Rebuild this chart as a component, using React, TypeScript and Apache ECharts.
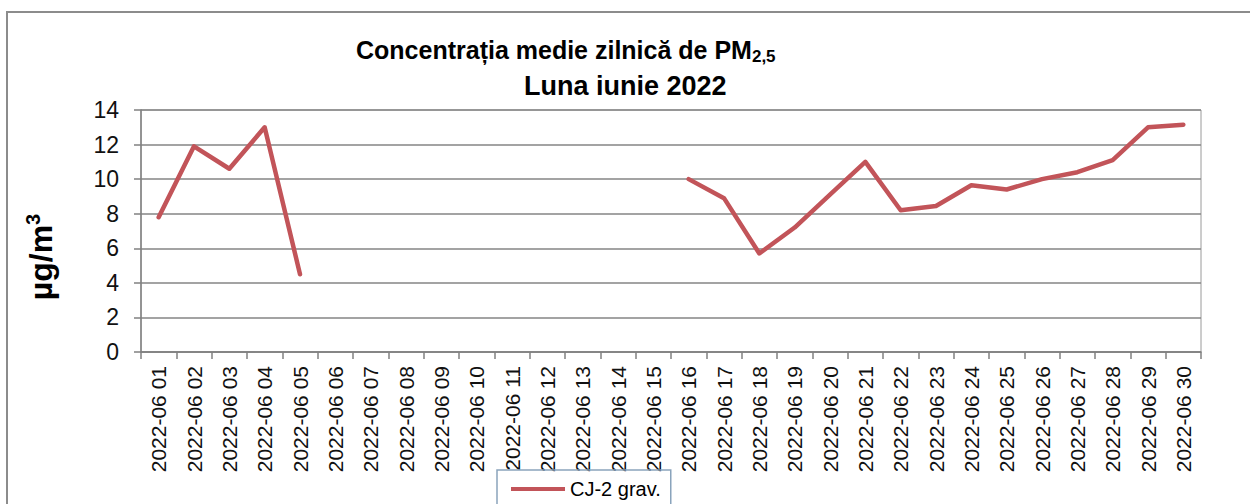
import React, { useEffect, useRef } from "react";
import * as echarts from "echarts";

const categories: string[] = [
  "2022-06 01", "2022-06 02", "2022-06 03", "2022-06 04", "2022-06 05",
  "2022-06 06", "2022-06 07", "2022-06 08", "2022-06 09", "2022-06 10",
  "2022-06 11", "2022-06 12", "2022-06 13", "2022-06 14", "2022-06 15",
  "2022-06 16", "2022-06 17", "2022-06 18", "2022-06 19", "2022-06 20",
  "2022-06 21", "2022-06 22", "2022-06 23", "2022-06 24", "2022-06 25",
  "2022-06 26", "2022-06 27", "2022-06 28", "2022-06 29", "2022-06 30",
];

const cj2Grav: (number | null)[] = [
  7.8, 11.9, 10.6, 13.0, 4.5,
  null, null, null, null, null,
  null, null, null, null, null,
  10.0, 8.9, 5.7, 7.2, 9.1,
  11.0, 8.2, 8.45, 9.65, 9.4,
  10.0, 10.4, 11.1, 13.0, 13.15,
];

const seriesName = "CJ-2 grav.";
const titleLine1 = "Concentrația medie zilnică de PM";
const titleSub = "2,5";
const titleLine2 = "Luna iunie 2022";
const yUnit = "µg/m";
const yUnitSup = "3";

const FONT = "'Liberation Sans', Arial, sans-serif";
const RED = "#C25459";

export default function App() {
  const ref = useRef<HTMLDivElement>(null);

  useEffect(() => {
    if (!ref.current) return;
    const chart = echarts.init(ref.current, null, { renderer: "svg" });
    chart.setOption({
      animation: false,
      backgroundColor: "#ffffff",
      textStyle: { fontFamily: FONT },
      title: [
        {
          text: `{a|${titleLine1}}{b|${titleSub}}`,
          left: 356,
          top: 35,
          padding: 0,
          textStyle: {
            rich: {
              a: { fontSize: 25, fontWeight: "bold", color: "#000", lineHeight: 30, fontFamily: FONT },
              b: { fontSize: 17, fontWeight: "bold", color: "#000", lineHeight: 14, verticalAlign: "bottom", fontFamily: FONT },
            },
          },
        },
        {
          text: titleLine2,
          left: 524,
          top: 70,
          padding: 0,
          textStyle: { fontSize: 27, fontWeight: "bold", color: "#000", lineHeight: 32, fontFamily: FONT },
        },
      ],
      graphic: [
        {
          type: "rect",
          shape: { x: 7, y: 12, width: 1300, height: 600 },
          style: { fill: "none", stroke: "#8c8c8c", lineWidth: 2 },
          silent: true,
        },
        {
          type: "text",
          x: 41,
          y: 257,
          rotation: Math.PI / 2,
          style: {
            text: `{a|${yUnit}}{b|${yUnitSup}}`,
            align: "center",
            verticalAlign: "middle",
            rich: {
              a: { fontSize: 32, fontWeight: "bold", fill: "#000", fontFamily: FONT, lineHeight: 36 },
              b: { fontSize: 20, fontWeight: "bold", fill: "#000", fontFamily: FONT, verticalAlign: "top", lineHeight: 36 },
            },
          },
        },
      ],
      legend: {
        left: 497,
        top: 470,
        padding: [9, 10, 9, 14],
        borderColor: "#8aa4bc",
        borderWidth: 1.5,
        itemWidth: 54,
        itemHeight: 20,
        itemGap: 0,
        icon: "path://M0,8 L54,8 L54,12 L0,12 Z",
        textStyle: { fontSize: 20, color: "#000", fontFamily: FONT, padding: [0, 0, 0, 0] },
        data: [seriesName],
      },
      grid: {
        left: 141,
        right: 49,
        top: 110,
        bottom: 152,
        containLabel: false,
        show: true,
        borderColor: "#9a9a9a",
        borderWidth: 1,
        backgroundColor: "transparent",
      },
      xAxis: {
        type: "category",
        data: categories,
        boundaryGap: true,
        axisLine: { show: true, lineStyle: { color: "#808080", width: 1.5 } },
        axisTick: { show: true, length: 7, alignWithLabel: false, lineStyle: { color: "#808080", width: 1.5 } },
        axisLabel: {
          interval: 0,
          rotate: 90,
          margin: 14,
          fontSize: 21,
          color: "#111",
          fontFamily: FONT,
        },
        splitLine: { show: false },
      },
      yAxis: {
        type: "value",
        min: 0,
        max: 14,
        interval: 2,
        axisLine: { show: true, lineStyle: { color: "#808080", width: 1.5 } },
        axisTick: { show: true, length: 7, lineStyle: { color: "#808080", width: 1.5 } },
        axisLabel: { fontSize: 23, color: "#111", margin: 22, fontFamily: FONT },
        splitLine: { show: true, lineStyle: { color: "#858585", width: 1.5 } },
      },
      series: [
        {
          name: seriesName,
          type: "line",
          data: cj2Grav,
          connectNulls: false,
          symbol: "none",
          lineStyle: { color: RED, width: 4.5, join: "round", cap: "round" },
          itemStyle: { color: RED },
        },
      ],
    });
    return () => chart.dispose();
  }, []);

  return (
    <div
      ref={ref}
      style={{ position: "fixed", left: 0, top: 0, width: 1250, height: 504 }}
    />
  );
}
